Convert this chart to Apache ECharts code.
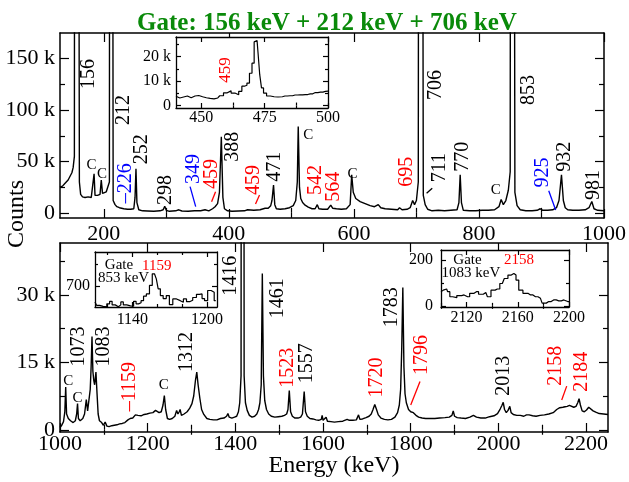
<!DOCTYPE html>
<html><head><meta charset="utf-8">
<script src="https://cdn.jsdelivr.net/npm/echarts@6/dist/echarts.min.js"></script>
<style>html,body{margin:0;padding:0;background:#fff}#c{width:629px;height:482px}</style>
</head><body><div id="c"></div>
<script>
const FONT = '"Liberation Serif", "Times New Roman", serif';

// ---------------- data ----------------
const topSpectrum = [
[130,25000],[134,26000],[137,28000],[140,27000],[143,32000],[146,33000],[149,39000],[151,44000],[153,55000],[155,2000000],[158,2000000],[161,30000],[163,18000],[166,15500],[170,15000],[175,15500],[180,15000],[183,16000],[184.5,38000],[186,17000],[190,17000],[194,18000],[196,32000],[198,19000],[201,19000],[204,20500],[207,22000],[209,30000],[211,2000000],[213,2000000],[215,12000],[218,8000],[221,6000],[225,5000],[228,4500],[232,4000],[235,5000],[238,3500],[243,3500],[248,4000],[250,15000],[251.5,43000],[253,10000],[256,3000],[262,2000],[270,1800],[280,1500],[290,2000],[295,3000],[297.5,6500],[300,2500],[305,1500],[315,2000],[320,3000],[325,1800],[335,1600],[345,2000],[355,2000],[362,3000],[368,2000],[374,4000],[378,6000],[382,9000],[385,20000],[388,74000],[390.5,15000],[393,4000],[398,2000],[405,1500],[415,1800],[425,2000],[430,3000],[440,2500],[450,3000],[458,4500],[463,4500],[467,7000],[469,12000],[471.5,27000],[473.5,8000],[476,4000],[482,3500],[490,4000],[497,5000],[503,7000],[507,12000],[509.5,30000],[511,84000],[513,25000],[515,14000],[518,10000],[522,7500],[527,5500],[533,4000],[538,4000],[541.5,8000],[544,4000],[550,3500],[558,3500],[563,7500],[566,4500],[572,4000],[580,3500],[588,4000],[594,8000],[596.5,37000],[599,20000],[603,14000],[610,11000],[618,9000],[626,7000],[633,6000],[639,8000],[643,5000],[650,4000],[660,3500],[670,3000],[673,5000],[677,3000],[685,3500],[690,5000],[694,12000],[697,8000],[700,12000],[703,30000],[705.5,2000000],[708,2000000],[711,17000],[714,8000],[718,3500],[725,2000],[735,2500],[745,2000],[755,2500],[765,3000],[768,10000],[770,37000],[772,10000],[775,2500],[785,2000],[795,2000],[805,2500],[815,2500],[825,3000],[832,6000],[835.5,13000],[839,8000],[843,12000],[847,22000],[850,40000],[852,2000000],[855,2000000],[857.5,20000],[861,7000],[866,3000],[875,2000],[885,2000],[893,2500],[898,4000],[902,2500],[910,2500],[918,3000],[924,5000],[928,12000],[932,37000],[935,12000],[938,5000],[942,3000],[950,2500],[960,2500],[970,3000],[976,5000],[980.5,11000],[984,4000],[990,2500],[1000,2000]
];

const bottomSpectrum = [
[1000,500],[1004,1000],[1008,1800],[1011,4000],[1013,9500],[1015,3500],[1019,2500],[1024,2000],[1030,1600],[1035,2000],[1038,3500],[1040,5800],[1042,2500],[1046,2000],[1052,2500],[1056,3500],[1060,6700],[1063,4200],[1066,4500],[1069,9000],[1071,14000],[1073,20700],[1075,13000],[1077,11000],[1079,10000],[1082,12800],[1084.5,8000],[1087,3500],[1090,2000],[1095,1600],[1099,1000],[1103,1700],[1107,800],[1112,700],[1118,900],[1124,1000],[1130,1100],[1136,1300],[1142,1400],[1148,1600],[1155,2200],[1160,2500],[1166,2600],[1172,3300],[1178,3200],[1185,3100],[1192,3400],[1198,3500],[1205,3700],[1212,3800],[1218,4300],[1222,4500],[1226,3800],[1231,4000],[1235,5500],[1238,7600],[1241,4500],[1245,2500],[1250,2300],[1256,2500],[1262,3000],[1266,4300],[1269,3500],[1272,4000],[1274,4500],[1277,3200],[1283,3500],[1290,4000],[1296,4800],[1301,5800],[1305,7500],[1309,11000],[1312,12800],[1315,10000],[1319,7000],[1323,4500],[1328,3400],[1335,2500],[1342,2300],[1350,2200],[1358,2200],[1366,2500],[1374,2600],[1380,3000],[1383,3600],[1386,2800],[1392,2600],[1398,2800],[1403,3000],[1407,4000],[1410,6000],[1413,12000],[1416.5,600000],[1420,12000],[1423,6000],[1427,4300],[1432,3200],[1438,2800],[1444,3000],[1449,3500],[1453,4500],[1456,6000],[1459,10000],[1461.5,34700],[1464,12000],[1467,6500],[1471,4500],[1476,3500],[1482,3000],[1490,2800],[1498,2900],[1506,3000],[1512,3200],[1517,3500],[1520,4500],[1523,8700],[1526,4000],[1530,3000],[1536,2600],[1543,2600],[1549,2800],[1553,3500],[1557,8500],[1560,4000],[1564,3000],[1570,2500],[1577,2400],[1584,2200],[1590,2100],[1596,2300],[1598,3200],[1600,2100],[1604,2000],[1607,2800],[1610,1900],[1618,1800],[1626,1700],[1635,1800],[1645,1900],[1655,2300],[1660,2100],[1668,2100],[1676,2200],[1681,3300],[1684,2300],[1690,2400],[1698,2700],[1705,3000],[1710,3500],[1714,4500],[1718,5600],[1722,4500],[1726,3300],[1732,2600],[1740,2300],[1748,2200],[1756,2300],[1764,2800],[1770,3800],[1774,5500],[1777,9000],[1779.5,18000],[1782,31600],[1784.5,14000],[1787,8000],[1790,6000],[1795,4500],[1800,4000],[1806,3800],[1809,4000],[1812,3200],[1818,2800],[1826,2600],[1834,2500],[1844,2500],[1855,2500],[1866,2600],[1878,2700],[1888,2800],[1894,3200],[1897,4200],[1900,3000],[1906,2700],[1915,2600],[1925,2500],[1935,2800],[1943,3200],[1950,2800],[1960,2600],[1970,2600],[1980,2900],[1990,3100],[1998,3600],[2004,4600],[2008,5400],[2011,6100],[2014,4500],[2018,3800],[2022,4300],[2026,5200],[2029,3800],[2034,3400],[2042,3200],[2050,3200],[2058,3000],[2064,3300],[2070,3300],[2078,3100],[2086,3000],[2095,3200],[2105,3300],[2115,3500],[2125,3800],[2133,4500],[2140,4900],[2147,5000],[2152,5100],[2157,5200],[2162,5400],[2166,5100],[2172,5000],[2177,5200],[2181,6000],[2184,6900],[2187,5500],[2191,4200],[2196,4000],[2201,4400],[2206,5000],[2210,4700],[2216,4200],[2222,3900],[2230,3600],[2240,3500],[2250,3400]
];

const inset459 = [
[440,3800],[441.5,3100],[443,3500],[444.5,3900],[446,3200],[447.5,3900],[449,4100],[450.5,3600],[452,3200],[453.5,2900],[455,2700],[456.5,3100],[458,4000],[459.5,5200],[461,6000],[462.5,5100],[464,4400],[465.5,5800],[466.5,7900],[467.5,8300],[468.5,9200],[469.5,13200],[470.5,17300],[471.2,26000],[472,26500],[472.7,22000],[473.4,12600],[474.1,7200],[475,5100],[476.5,3900],[478,3600],[479.5,3500],[481,3600],[483,3900],[485,4000],[487,4300],[489,4400],[491,4500],[493,4800],[495,5300],[497,5500],[499,5800],[500,5900]
];

const inset1159 = [
[1110,624],[1112.5,608],[1115,603],[1118,601],[1121,615],[1122.5,627],[1125,610],[1127.5,601],[1130,610],[1131.5,624],[1134,610],[1137,605],[1140,604],[1142,627],[1144,615],[1146,620],[1148,630],[1150,651],[1152.5,662],[1155,702],[1157,757],[1158.5,762],[1160,733],[1161.5,686],[1163.5,654],[1166,640],[1168.5,654],[1171,611],[1174,638],[1177,630],[1180,622],[1182,638],[1185,625],[1187,632],[1190,645],[1193,660],[1195,662],[1197,640],[1199,630],[1202,678],[1204.5,670],[1207,630]
];

const inset2158 = [
[2100,62],[2101.8,69],[2104.4,74],[2106,62],[2107.8,40],[2110.4,36],[2114.3,45],[2118,48],[2120.8,40],[2124,55],[2127.7,62],[2131,51],[2135,59],[2137.5,40],[2140.6,69],[2144,74],[2147.9,98],[2151,120],[2153.6,135],[2156.2,142],[2157.7,135],[2159.5,113],[2162,69],[2166,55],[2169.9,48],[2173.8,40],[2177.7,33],[2180.3,12],[2184.2,19],[2188,26],[2192,22],[2196,26],[2199,19],[2200,19]
];

// tick values
const topXMajor = [200,400,600,800,1000], topXMinor = [300,500,700,900];
const topYMajor = [0,50000,100000,150000], topYMinor = [25000,75000,125000];
const botXMajor = [1000,1200,1400,1600,1800,2000,2200], botXMinor = [1100,1300,1500,1700,1900,2100];
const botYMajor = [0,15000,30000], botYMinor = [7500,22500,37500];
const in1XMajor = [450,475,500], in1XMinor = [462.5,487.5];
const in1YMajor = [0,10000,20000], in1YMinor = [5000,15000,25000];
const in2XMajor = [1140,1200], in2XMinor = [1120,1160,1180];
const in2YMajor = [700], in2YMinor = [800];
const in3XMajor = [2120,2160,2200], in3XMinor = [2100,2140,2180];
const in3YMajor = [0,200], in3YMinor = [100];

// annotations (data coordinates)
const topPeakLabels = [
 ['156',176.0,135100,'#000'],['212',232.7,100100,'#000'],['252',261.0,61900,'#000'],
 ['\u2013226',234.5,28800,'#00f'],['298',299.4,22200,'#000'],['349',344.3,42700,'#00f'],
 ['459',372.1,37800,'#f00'],['388',406.2,64400,'#000'],['459',439.6,32000,'#f00'],
 ['471',474.0,44900,'#000'],['542',538.8,32000,'#f00'],['564',567.8,25500,'#f00'],
 ['695',685.3,40000,'#f00'],['706',730.6,124400,'#000'],['711',737.6,44100,'#000'],
 ['770',774.9,54600,'#000'],['853',880.1,119500,'#000'],['925',902.7,39300,'#00f'],
 ['932',936.9,54600,'#000'],['981',983.3,27100,'#000']
];
const topCLabels = [[180.3,46300],[197.0,37600],[526.9,75800],[597.8,37300],[826.9,22200]];
const topLeaders = [
 [[338,25500],[347,6000],'#00f'],[[372.4,10900],[378.8,20600],'#f00'],
 [[442.7,8600],[449.1,17400],'#f00'],[[716.3,19000],[725.3,23900],'#000'],
 [[911.6,21600],[922.7,2800],'#00f']
];
const botPeakLabels = [
 ['1073',1041.7,18500,'#000'],['1083',1098.8,18500,'#000'],['\u20131159',1159.7,9600,'#f00'],
 ['1312',1289.0,17300,'#000'],['1416',1390.5,34200,'#000'],['1461',1496.8,29200,'#000'],
 ['1523',1518.9,13800,'#f00'],['1557',1562.7,14800,'#000'],['1720',1722.4,11600,'#f00'],
 ['1783',1756.6,27200,'#000'],['1796',1825.0,16600,'#f00'],['2013',2013.2,12000,'#000'],
 ['2158',2130.9,14200,'#f00'],['2184',2190.0,12900,'#f00']
];
const botCLabels = [[1018.9,10900],[1039.9,7000],[1236.8,10000]];
const botLeaders = [[[1800,5500],[1821.2,10700],'#f00'],[[2144.4,6600],[2155.8,9700],'#f00']];
const in1Labels = [['459',459.7,14500,'#f00']];
const in2Labels = [['Gate',1129.3,798,'#000'],['853 keV',1132.9,737,'#000'],['1159',1159.6,794,'#f00']];
const in3Labels = [['Gate',2120.7,201,'#000'],['1083 keV',2123.4,146,'#000'],['2158',2160.9,201,'#f00']];

// ---------------- chart ----------------
const kfmt = v => v === 0 ? '0' : (v/1000) + ' k';
const pfmt = v => String(v);
const grids = [
 {left:60, top:33, width:548, height:185},
 {left:60, top:243, width:548, height:189},
 {left:176, top:37, width:152, height:71, z:10, show:true, backgroundColor:'#fff', borderWidth:0},
 {left:95, top:252, width:122, height:55, z:10, show:true, backgroundColor:'#fff', borderWidth:0},
 {left:441, top:250, width:128, height:57, z:10, show:true, backgroundColor:'#fff', borderWidth:0}
];
const xAxis = [], yAxis = [];
function addAxes(g, o) {
  const z = o.z || 0;
  const mk = (arr, dim, pos, ticks, len, labels, showLine) => {
    arr.push({
      type:'value', gridIndex:g, position:pos, min:o[dim+'min'], max:o[dim+'max'], z:z,
      axisLine: showLine ? {show:true, onZero:false, lineStyle:{color:'#000', width:o.lw}} : {show:false},
      axisTick: {show:true, inside:true, length:len, customValues:ticks, lineStyle:{color:'#000', width:1.2}},
      axisLabel: labels ? {show:true, customValues:labels, formatter:o[dim+'fmt'] || pfmt, fontFamily:FONT,
                 fontSize:o.fs, color:'#000', margin:o[dim+'margin'], showMinLabel:true, showMaxLabel:true} : {show:false},
      splitLine:{show:false}, silent:true
    });
    return arr.length - 1;
  };
  const xi = mk(xAxis,'x','bottom',o.xMajor,o.maj,o.xMajor,true);
  mk(xAxis,'x','bottom',o.xMinor,o.min,null,false);
  mk(xAxis,'x','top',o.xMajor,o.maj,null,true);
  mk(xAxis,'x','top',o.xMinor,o.min,null,false);
  const yi = mk(yAxis,'y','left',o.yMajor,o.maj,o.yMajor,true);
  mk(yAxis,'y','left',o.yMinor,o.min,null,false);
  mk(yAxis,'y','right',o.yMajor,o.maj,null,true);
  mk(yAxis,'y','right',o.yMinor,o.min,null,false);
  return [xi, yi];
}
const A0 = addAxes(0, {xmin:130, xmax:1000, ymin:-5000, ymax:175000, xMajor:topXMajor, xMinor:topXMinor,
  yMajor:topYMajor, yMinor:topYMinor, yfmt:kfmt, fs:22, xmargin:5, ymargin:5, maj:9, min:5, lw:1.5});
const A1 = addAxes(1, {xmin:1000, xmax:2250, ymin:-500, ymax:41500, xMajor:botXMajor, xMinor:botXMinor,
  yMajor:botYMajor, yMinor:botYMinor, yfmt:kfmt, fs:22, xmargin:1, ymargin:5, maj:9, min:5, lw:1.5});
const A2 = addAxes(2, {xmin:440, xmax:500, ymin:-1000, ymax:28000, xMajor:in1XMajor, xMinor:in1XMinor,
  yMajor:in1YMajor, yMinor:in1YMinor, yfmt:kfmt, fs:16, xmargin:2, ymargin:5, maj:5, min:3, lw:1.3, z:30});
const A3 = addAxes(3, {xmin:1110, xmax:1208, ymin:600, ymax:860, xMajor:in2XMajor, xMinor:in2XMinor,
  yMajor:in2YMajor, yMinor:in2YMinor, fs:16, xmargin:5, ymargin:5, maj:5, min:3, lw:1.3, z:30});
const A4 = addAxes(4, {xmin:2100, xmax:2200, ymin:-5, ymax:245, xMajor:in3XMajor, xMinor:in3XMinor,
  yMajor:in3YMajor, yMinor:in3YMinor, fs:16, xmargin:3, ymargin:8, maj:5, min:3, lw:1.3, z:30});

const series = [];
function spec(data, ax, z, step, w) {
  series.push({type:'line', xAxisIndex:ax[0], yAxisIndex:ax[1], data:data, symbol:'none', showSymbol:false,
    step: step || false, clip:true, z:z, silent:true, animation:false,
    lineStyle:{color:'#000', width:w}});
}
spec(topSpectrum, A0, 2, false, 1.4);
spec(bottomSpectrum, A1, 2, false, 1.4);
spec(inset459, A2, 31, 'middle', 1.2);
spec(inset1159, A3, 31, 'middle', 1.2);
spec(inset2158, A4, 31, 'middle', 1.2);
function leaders(list, ax) {
  list.forEach(([p1, p2, c]) => series.push({type:'line', xAxisIndex:ax[0], yAxisIndex:ax[1], data:[p1, p2],
    symbol:'none', clip:false, z:5, silent:true, animation:false, lineStyle:{color:c, width:1.3}}));
}
leaders(topLeaders, A0);
leaders(botLeaders, A1);

const chart = echarts.init(document.getElementById('c'), null, {renderer:'canvas'});
chart.setOption({animation:false, backgroundColor:'#fff', grid:grids, xAxis:xAxis, yAxis:yAxis, series:series});

const graphic = [];
function txt(list, ax, size, rot) {
  list.forEach(([t, x, y, c]) => {
    const p = chart.convertToPixel({xAxisIndex:ax[0], yAxisIndex:ax[1]}, [x, y]);
    graphic.push({type:'text', x:p[0], y:p[1], rotation: rot ? Math.PI/2 : 0, z:100, silent:true,
      style:{text:t, fill:c, font: size + 'px ' + FONT, align:'center', verticalAlign:'middle'}});
  });
}
txt(topPeakLabels, A0, 20, true);
txt(topCLabels.map(p => ['C', p[0], p[1], '#000']), A0, 15, false);
txt(botPeakLabels, A1, 20, true);
txt(botCLabels.map(p => ['C', p[0], p[1], '#000']), A1, 15, false);
txt(in1Labels, A2, 17, true);
txt(in2Labels, A3, 15, false);
txt(in3Labels, A4, 15, false);
graphic.push({type:'text', x:327, y:24, z:100, silent:true,
  style:{text:'Gate: 156 keV + 212 keV + 706 keV', fill:'#0a8a0a', font:'bold 25px ' + FONT, align:'center', verticalAlign:'middle'}});
graphic.push({type:'text', x:17, y:214, rotation:Math.PI/2, z:100, silent:true,
  style:{text:'Counts', fill:'#000', font:'24px ' + FONT, align:'center', verticalAlign:'middle'}});
graphic.push({type:'text', x:334, y:466, z:100, silent:true,
  style:{text:'Energy (keV)', fill:'#000', font:'24px ' + FONT, align:'center', verticalAlign:'middle'}});
chart.setOption({graphic: graphic});
</script></body></html>
